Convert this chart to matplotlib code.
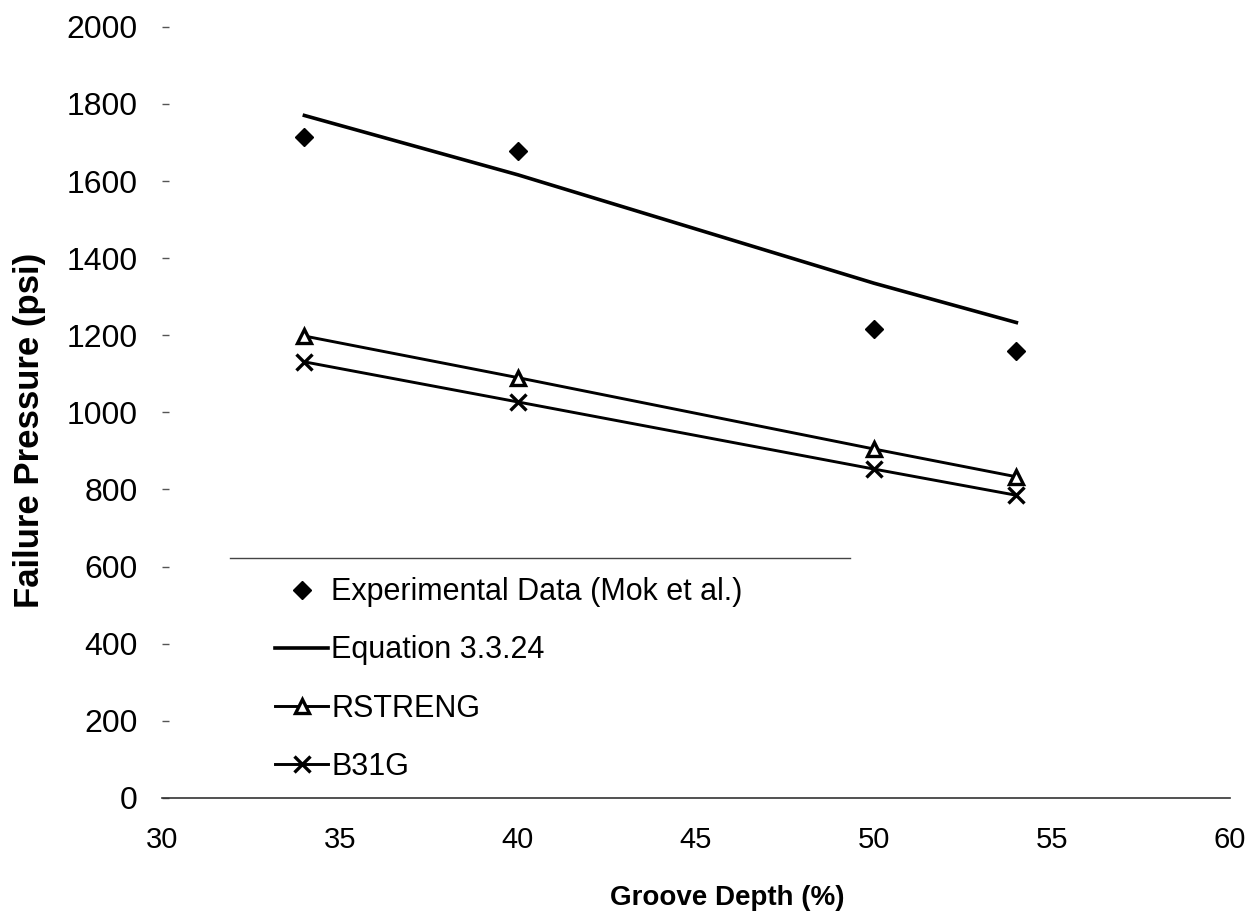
import matplotlib
matplotlib.use("Agg")
import matplotlib.pyplot as plt

plt.rcParams["font.family"] = ["Liberation Sans", "DejaVu Sans"]

# --- data ---
depth = [34, 40, 50, 54]
experimental = [1713, 1677, 1217, 1160]
equation = [1770, 1616, 1335, 1233]
rstreng = [1198, 1090, 905, 833]
b31g = [1131, 1027, 853, 785]

x_ticks = [30, 35, 40, 45, 50, 55, 60]
y_ticks = [0, 200, 400, 600, 800, 1000, 1200, 1400, 1600, 1800, 2000]

fig = plt.figure(figsize=(12.52, 9.17), dpi=100)
ax = fig.add_axes([0.1294, 0.1298, 0.853, 0.841])

ax.plot(depth, experimental, linestyle="none", marker="D", markersize=9.5,
        color="black", label="Experimental Data (Mok et al.)")
ax.plot(depth, equation, color="black", linewidth=2.6, label="Equation 3.3.24")
ax.plot(depth, rstreng, color="black", linewidth=2.1, marker="^", markersize=10,
        markerfacecolor="white", markeredgecolor="black", markeredgewidth=2.4,
        label="RSTRENG")
ax.plot(depth, b31g, color="black", linewidth=2.1, marker="x", markersize=11,
        markeredgewidth=2.4, label="B31G")

ax.set_xlim(30, 60)
ax.set_ylim(0, 2000)
ax.set_xticks(x_ticks)
ax.set_yticks(y_ticks)

for s in ["top", "right", "left"]:
    ax.spines[s].set_visible(False)
ax.spines["bottom"].set_color("#333333")
ax.spines["bottom"].set_linewidth(1.2)

ax.tick_params(axis="x", length=0, pad=20, labelsize=21)
ax.tick_params(axis="y", direction="in", length=5, width=1, color="#555555",
               pad=17.5, labelsize=23)

ax.set_xlabel("Groove Depth (%)", fontsize=20, fontweight="bold")
ax.xaxis.set_label_coords(0.529, -0.1297)
ax.xaxis.label.set_verticalalignment("center")
ax.set_ylabel("Failure Pressure (psi)", fontsize=25, fontweight="bold")
ax.yaxis.set_label_coords(-0.1245, 0.477)
ax.yaxis.label.set_verticalalignment("center")

leg = ax.legend(loc="upper left", bbox_to_anchor=(0.094, 0.302), frameon=False,
                fontsize=22, handlelength=1.76, handletextpad=0.1,
                labelspacing=0.92, numpoints=1, borderaxespad=0)

# thin frame edge above the legend
ax.plot([0.064, 0.644], [0.311, 0.311], transform=ax.transAxes,
        color="#444444", linewidth=1.0, clip_on=False)

fig.savefig("out.png", dpi=100)
